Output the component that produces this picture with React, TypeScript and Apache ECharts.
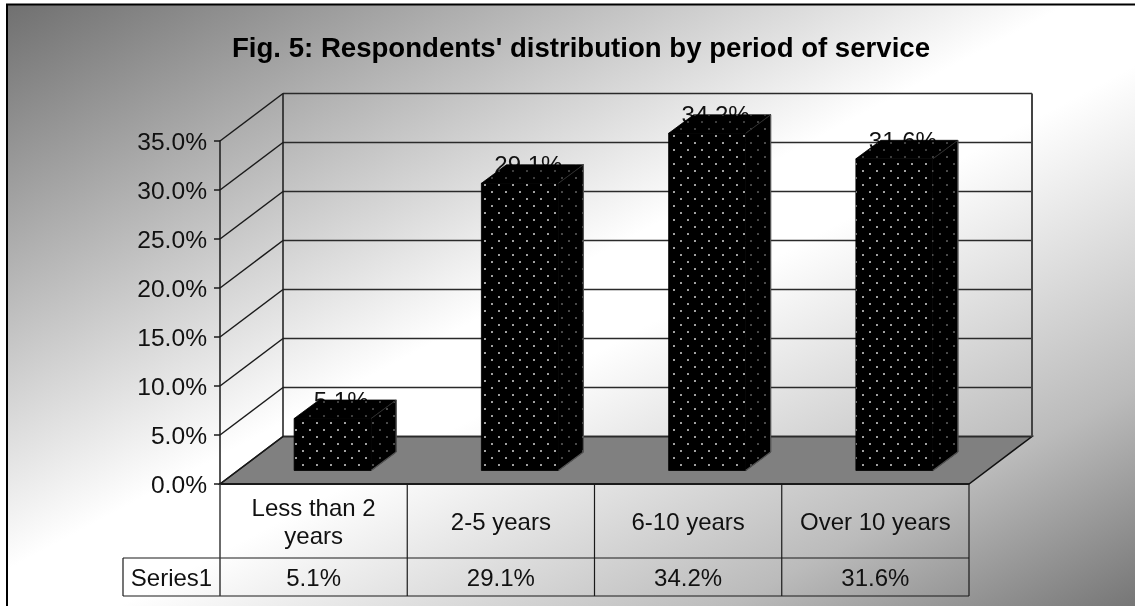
import React, { useEffect, useRef } from "react";
import * as echarts from "echarts";

const titleText = "Fig. 5: Respondents' distribution by period of service";
const categories = ["Less than 2\nyears", "2-5 years", "6-10 years", "Over 10 years"];
const shares = [5.1, 29.1, 34.2, 31.6];
const seriesName = "Series1";
const yTicks = [0, 5, 10, 15, 20, 25, 30, 35];

const FONT = "Liberation Sans";
const INK = "#111111";
// Receding offset of the chart box behind the front plane
const WALL_DX = 63;
const WALL_DY = -47.5;
// Bar placement inside the box
const BAR_WIDTH = 77;
const BAR_DX = 25;
const BAR_DY = -18.5;
const BAR_BASE_LIFT = 13.5;
const BAR_TOP_LIFT = 15.5;
const BAR_SHIFT = 19;
// Data table rows below the front plane
const ROW_1_BOTTOM = 74;
const ROW_2_BOTTOM = 112;
const HEADER_WIDTH = 97;

// Tiled pattern of staggered dots on a black ground
function dotTile(color: string) {
  const c = document.createElement("canvas");
  c.width = 14;
  c.height = 14;
  const g = c.getContext("2d")!;
  g.fillStyle = "#000000";
  g.fillRect(0, 0, 14, 14);
  g.fillStyle = color;
  for (const [x, y] of [[9, 3], [2, 10]]) {
    g.beginPath();
    g.arc(x, y, 0.95, 0, Math.PI * 2);
    g.fill();
  }
  return c;
}

const line = (x1: number, y1: number, x2: number, y2: number, width = 1.5, stroke = "#1a1a1a") => ({
  type: "line",
  shape: { x1, y1, x2, y2 },
  style: { stroke, lineWidth: width },
  silent: true,
});

const poly = (points: number[][], fill: unknown, stroke: string, lineWidth = 1) => ({
  type: "polygon",
  shape: { points },
  style: { fill, stroke, lineWidth },
  silent: true,
});

export default function App() {
  const ref = useRef<HTMLDivElement>(null);

  useEffect(() => {
    const chart = echarts.init(ref.current!, undefined, { renderer: "svg" });
    const frontDots = { image: dotTile("#e6e6e6"), repeat: "repeat" };
    const sideDots = { image: dotTile("#6a6a6a"), repeat: "repeat" };
    const topDots = { image: dotTile("#585858"), repeat: "repeat" };

    const renderFrame = (params: any, api: any) => {
      const cs = params.coordSys;
      const left = cs.x;
      const right = cs.x + cs.width;
      const floorY = api.coord([0, 0])[1];
      const children: any[] = [
        poly(
          [
            [left, floorY],
            [left + WALL_DX, floorY + WALL_DY],
            [right + WALL_DX, floorY + WALL_DY],
            [right, floorY],
          ],
          "#808080",
          "#111111",
          1.5,
        ),
      ];
      for (const t of yTicks) {
        const y = api.coord([0, t])[1];
        children.push(line(left, y, left + WALL_DX, y + WALL_DY));
        children.push(line(left + WALL_DX, y + WALL_DY, right + WALL_DX, y + WALL_DY, 1.6, "#2a2a2a"));
      }
      const topY = api.coord([0, yTicks[yTicks.length - 1]])[1];
      children.push(line(left + WALL_DX, topY + WALL_DY, left + WALL_DX, floorY + WALL_DY, 1.5));
      children.push(line(right + WALL_DX, topY + WALL_DY, right + WALL_DX, floorY + WALL_DY, 2, "#444444"));

      // Data table grid
      const row1 = floorY + ROW_1_BOTTOM;
      const row2 = floorY + ROW_2_BOTTOM;
      children.push(line(left, floorY, right, floorY, 2));
      children.push(line(left - HEADER_WIDTH, row1, right, row1, 1.2));
      children.push(line(left - HEADER_WIDTH, row2, right, row2, 1.2));
      children.push(line(left - HEADER_WIDTH, row1, left - HEADER_WIDTH, row2, 1.2));
      children.push(line(left, floorY, left, row2, 1.5, "#3a3a3a"));
      categories.forEach((_, i) => {
        const x = left + (cs.width * (i + 1)) / categories.length;
        children.push(line(x, floorY, x, row2, 1.2));
      });
      children.push({
        type: "text",
        silent: true,
        style: {
          text: seriesName,
          x: left - HEADER_WIDTH / 2,
          y: floorY + (ROW_1_BOTTOM + ROW_2_BOTTOM) / 2,
          align: "center",
          verticalAlign: "middle",
          font: `24px "${FONT}"`,
          fill: INK,
        },
      });
      return { type: "group", children };
    };

    const renderBar = (_: any, api: any) => {
      const idx = api.value(0);
      const value = api.value(1);
      const [cx, topRaw] = api.coord([idx, value]);
      const [, baseRaw] = api.coord([idx, 0]);
      const x0 = cx + BAR_SHIFT - BAR_WIDTH / 2;
      const x1 = x0 + BAR_WIDTH;
      const yTop = topRaw - BAR_TOP_LIFT;
      const yBase = baseRaw - BAR_BASE_LIFT;
      const xb = x1 + BAR_DX;
      return {
        type: "group",
        children: [
          {
            type: "text",
            silent: true,
            style: {
              text: `${value.toFixed(1)}%`,
              x: (x0 + x1 + BAR_DX) / 2 - 4,
              y: yTop + BAR_DY,
              align: "center",
              verticalAlign: "middle",
              font: `24px "${FONT}"`,
              fill: INK,
            },
          },
          poly([[x1, yTop], [xb, yTop + BAR_DY], [xb, yBase + BAR_DY], [x1, yBase]], sideDots, "#000000", 0.6),
          poly([[x0, yTop], [x0 + BAR_DX, yTop + BAR_DY], [xb, yTop + BAR_DY], [x1, yTop]], topDots, "#000000", 0.8),
          poly([[x0, yTop], [x1, yTop], [x1, yBase], [x0, yBase]], frontDots, "#000000", 0.8),
          // Lit edges of the side face
          line(xb, yTop + BAR_DY, xb, yBase + BAR_DY, 1.2, "#555555"),
          line(x1, yBase, xb, yBase + BAR_DY, 1.2, "#555555"),
          line(x1, yTop, xb, yTop + BAR_DY, 0.8, "#3a3a3a"),
          {
            type: "text",
            silent: true,
            style: {
              text: `${value.toFixed(1)}%`,
              x: cx,
              y: baseRaw + (ROW_1_BOTTOM + ROW_2_BOTTOM) / 2,
              align: "center",
              verticalAlign: "middle",
              font: `24px "${FONT}"`,
              fill: INK,
            },
          },
        ],
      };
    };

    chart.setOption({
      animation: false,
      title: {
        text: titleText,
        left: 576,
        top: 28,
        textAlign: "center",
        textStyle: { fontFamily: FONT, fontWeight: "bold", fontSize: 27.6, color: "#000000" },
      },
      graphic: {
        z: -1,
        elements: [
          {
            type: "rect",
            shape: { x: 7, y: 5, width: 1128, height: 601 },
            silent: true,
            style: {
              fill: new echarts.graphic.LinearGradient(0, 0, 1, 1, [
                { offset: 0, color: "#707070" },
                { offset: 0.47, color: "#ffffff" },
                { offset: 0.55, color: "#ffffff" },
                { offset: 0.82, color: "#bbbbbb" },
                { offset: 1, color: "#767676" },
              ]),
            },
          },
          line(6, 4.5, 1135, 4.5, 2, "#000000"),
          line(7, 4, 7, 606, 2, "#000000"),
        ],
      },
      grid: { left: 220, top: 141, width: 749, height: 343, containLabel: false },
      xAxis: {
        type: "category",
        data: categories,
        axisLine: { show: false },
        axisTick: { show: false },
        axisLabel: {
          interval: 0,
          margin: 37,
          verticalAlign: "middle",
          lineHeight: 28,
          fontFamily: FONT,
          fontSize: 24,
          color: INK,
        },
      },
      yAxis: {
        type: "value",
        min: 0,
        max: 35,
        interval: 5,
        splitLine: { show: false },
        axisLine: { show: true, lineStyle: { color: "#1a1a1a", width: 1.5 } },
        axisTick: { show: true, length: 6, lineStyle: { color: "#1a1a1a", width: 1.5 } },
        axisLabel: {
          margin: 13,
          fontFamily: FONT,
          fontSize: 24.6,
          color: INK,
          formatter: (v: number) => `${v.toFixed(1)}%`,
        },
      },
      series: [
        {
          type: "custom",
          z: 2,
          silent: true,
          clip: false,
          renderItem: renderFrame,
          data: [[0, 0]],
        },
        {
          type: "custom",
          name: seriesName,
          z: 3,
          silent: true,
          clip: false,
          renderItem: renderBar,
          encode: { x: 0, y: 1 },
          data: shares.map((v, i) => [i, v]),
        },
      ],
    });
    return () => chart.dispose();
  }, []);

  return <div ref={ref} style={{ position: "fixed", left: 0, top: 0, width: 1135, height: 606 }} />;
}
